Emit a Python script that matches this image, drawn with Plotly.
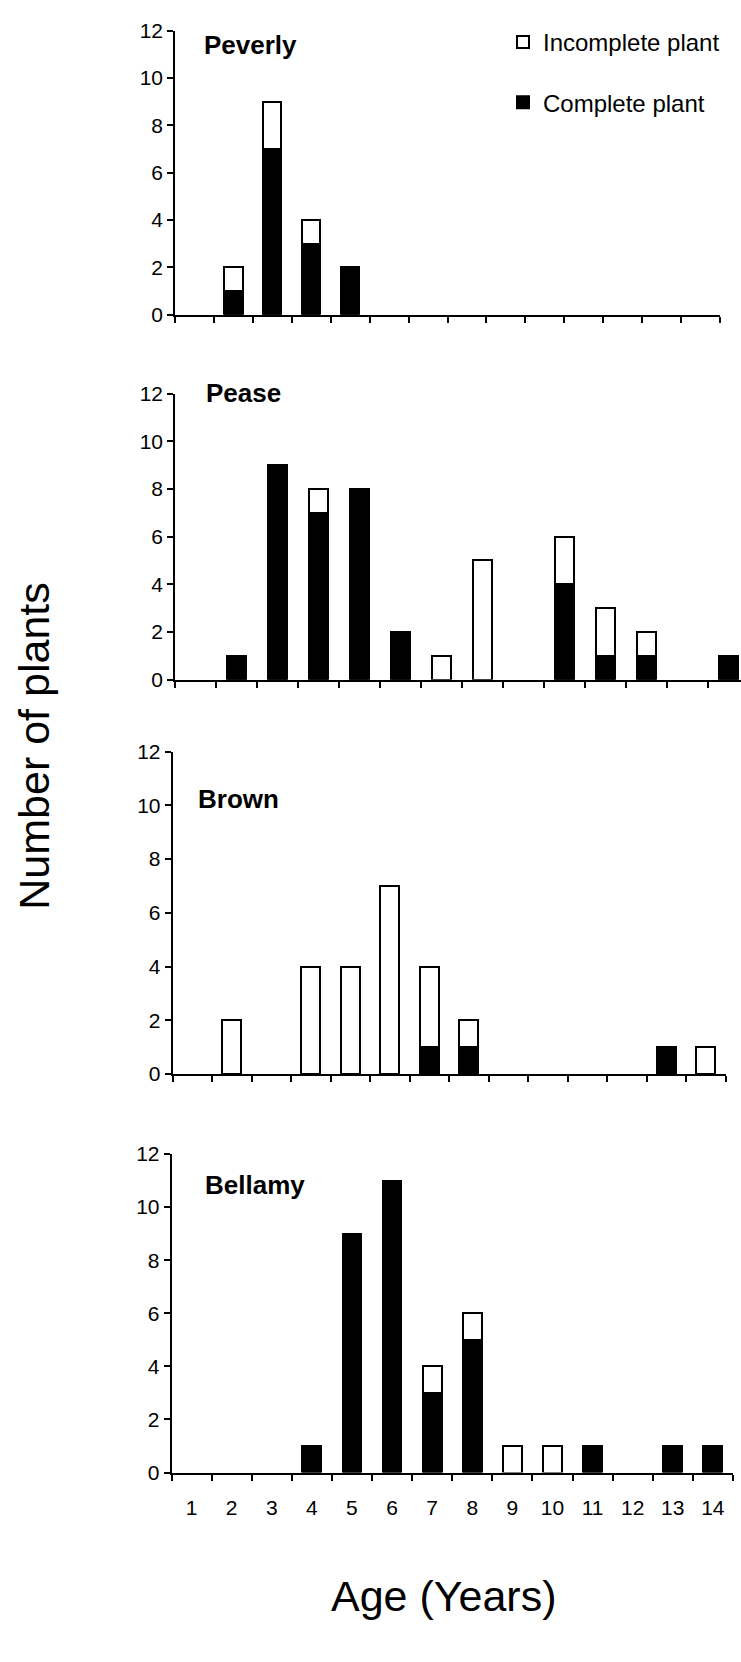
import plotly.graph_objects as go

# ---------------- data ----------------
ages = ["1", "2", "3", "4", "5", "6", "7", "8", "9", "10", "11", "12", "13", "14"]
site_names = ["Peverly", "Pease", "Brown", "Bellamy"]

peverly_complete   = [None, 1, 7, 3, 2, None, None, None, None, None, None, None, None, None]
peverly_incomplete = [None, 1, 2, 1, None, None, None, None, None, None, None, None, None, None]

pease_complete     = [None, 1, 9, 7, 8, 2, None, None, None, 4, 1, 1, None, 1]
pease_incomplete   = [None, None, None, 1, None, None, 1, 5, None, 2, 2, 1, None, None]

brown_complete     = [None, None, None, None, None, None, 1, 1, None, None, None, None, 1, None]
brown_incomplete   = [None, 2, None, 4, 4, 7, 3, 1, None, None, None, None, None, 1]

bellamy_complete   = [None, None, None, 1, 9, 11, 3, 5, None, None, 1, None, 1, 1]
bellamy_incomplete = [None, None, None, None, None, None, 1, 1, 1, 1, None, None, None, None]

complete_series = [peverly_complete, pease_complete, brown_complete, bellamy_complete]
incomplete_series = [peverly_incomplete, pease_incomplete, brown_incomplete, bellamy_incomplete]

# ---------------- layout (pixel geometry) ----------------
W, H = 741, 1662
FONT = "Liberation Sans, Arial, sans-serif"
# top/bottom pixel of y range, left pixel, category width, title position
geom = [
    dict(top=19,   bottom=307,  left=175,   cw=38.93, tx=202, ty=33),
    dict(top=387,  bottom=677,  left=175,   cw=41.0,  tx=204, ty=386),
    dict(top=750,  bottom=1077, left=172.5, cw=39.5,  tx=196, ty=798),
    dict(top=1158, bottom=1481, left=171.5, cw=40.1,  tx=203, ty=1189),
]

fig = go.Figure()
annotations = []
for k, (name, comp, inc, g) in enumerate(zip(site_names, complete_series, incomplete_series, geom), start=1):
    xa = "x" if k == 1 else f"x{k}"
    ya = "y" if k == 1 else f"y{k}"
    fig.add_trace(go.Bar(
        x=ages, y=comp, xaxis=xa, yaxis=ya, name="Complete plant",
        marker=dict(color="black", line=dict(color="black", width=2)),
        showlegend=(k == 1), legendgroup="c", legendrank=2,
    ))
    fig.add_trace(go.Bar(
        x=ages, y=inc, xaxis=xa, yaxis=ya, name="Incomplete plant",
        marker=dict(color="white", line=dict(color="black", width=2)),
        showlegend=(k == 1), legendgroup="i", legendrank=1,
    ))
    right = min(W, g["left"] + 14 * g["cw"])
    xmax = -0.5 + (right - g["left"]) / g["cw"]
    xdom = [g["left"] / W, right / W]
    ydom = [1 - g["bottom"] / H, 1 - g["top"] / H]
    sfx = "" if k == 1 else str(k)
    fig.layout["xaxis" + sfx] = dict(
        type="category", categoryorder="array", categoryarray=ages,
        range=[-0.5, xmax], domain=xdom, anchor=ya,
        tickson="boundaries", ticks="outside", ticklen=6, tickwidth=1.5, tickcolor="black",
        showline=True, linecolor="black", linewidth=2, showgrid=False, zeroline=False,
        showticklabels=(k == 4), tickfont=dict(size=21, color="black", family=FONT),
        ticklabelstandoff=15,
    )
    fig.layout["yaxis" + sfx] = dict(
        range=[0, 12], tick0=0, dtick=2, domain=ydom, anchor=xa,
        ticks="outside", ticklen=6, tickwidth=1.5, tickcolor="black",
        showline=True, linecolor="black", linewidth=1.5, showgrid=False, zeroline=False,
        tickfont=dict(size=21, color="black", family=FONT),
    )
    annotations.append(dict(
        text=f"<b>{name}</b>", xref="paper", yref="paper",
        x=g["tx"] / W, y=1 - g["ty"] / H, xanchor="left", yanchor="middle",
        showarrow=False, font=dict(size=26, color="black", family=FONT),
    ))

annotations.append(dict(
    text="Number of plants", xref="paper", yref="paper", x=34 / W, y=1 - 745 / H,
    xanchor="center", yanchor="middle", textangle=-90, showarrow=False,
    font=dict(size=43, color="black", family=FONT),
))
annotations.append(dict(
    text="Age (Years)", xref="paper", yref="paper", x=443 / W, y=1 - 1606 / H,
    xanchor="center", yanchor="middle", showarrow=False,
    font=dict(size=43, color="black", family=FONT),
))

fig.update_layout(
    width=W, height=H, margin=dict(l=0, r=0, t=0, b=0),
    paper_bgcolor="white", plot_bgcolor="white",
    barmode="stack", bargap=0.53,
    font=dict(family=FONT, color="black"),
    legend=dict(x=503 / W, xanchor="left", y=1 - 8 / H, yanchor="top",
                font=dict(size=24, color="black", family=FONT),
                traceorder="grouped", tracegroupgap=26, bgcolor="rgba(0,0,0,0)"),
    annotations=annotations,
)

fig.write_html(
    "out.html",
    config={"displayModeBar": False},
    post_script="document.body.style.margin='0px';document.body.style.overflow='hidden';",
)
